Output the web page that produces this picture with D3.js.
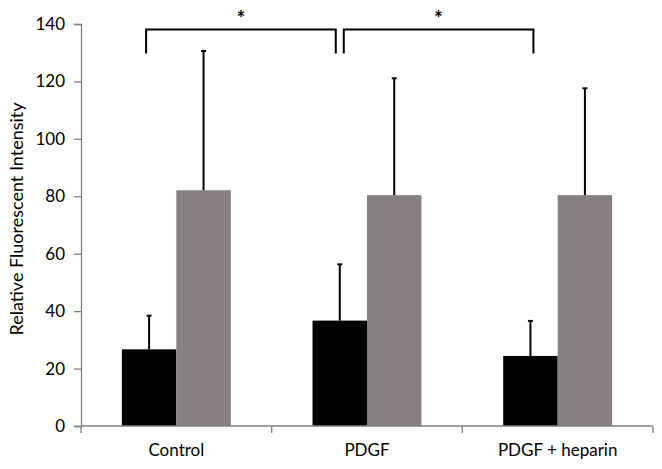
<!DOCTYPE html>
<html>
<head>
<meta charset="utf-8">
<script src="https://cdn.jsdelivr.net/npm/d3@7"></script>
<style>
  body { margin: 0; background: #fff; }
  text { font-family: Lato, "Open Sans", sans-serif; fill: #000; }
</style>
</head>
<body>
<div id="chart"></div>
<script>
/* DATA */
const categories = ["Control", "PDGF", "PDGF + heparin"];
const seriesKeys = ["black", "gray"];
const blackValues = [26.7, 36.7, 24.4];
const blackErrors = [11.7, 19.6, 12.2];
const grayValues = [82.1, 80.4, 80.4];
const grayErrors = [48.5, 40.7, 37.2];
const yTicks = [0, 20, 40, 60, 80, 100, 120, 140];
// significance brackets: [from category, to category]
const brackets = [["Control", "PDGF"], ["PDGF", "PDGF + heparin"]];

const W = 662, H = 469;
const margin = { top: 24, right: 9, bottom: 43, left: 81 };
const width = W - margin.left - margin.right;
const height = H - margin.top - margin.bottom;

const colors = { black: "#000000", gray: "#868180" };

const rows = categories.map((c, i) => ({
  cat: c,
  bars: [
    { key: "black", value: blackValues[i], err: blackErrors[i] },
    { key: "gray", value: grayValues[i], err: grayErrors[i] }
  ]
}));

const svg = d3.select("#chart").append("svg")
  .attr("width", W).attr("height", H);

const g = svg.append("g")
  .attr("transform", `translate(${margin.left},${margin.top})`);

const x = d3.scaleBand().domain(categories).range([0, width]).paddingInner(0).paddingOuter(0);
const x1 = d3.scaleBand().domain(seriesKeys).range([0, x.bandwidth()]).paddingInner(0).paddingOuter(0.75);
const y = d3.scaleLinear().domain([0, 140]).range([height, 0]);

// y axis
const yAxis = g.append("g")
  .call(d3.axisLeft(y).tickValues(yTicks).tickSize(7).tickPadding(9));
yAxis.select(".domain").attr("stroke", "#7f7f7f").attr("stroke-width", 1.3);
yAxis.selectAll(".tick line").attr("stroke", "#7f7f7f").attr("stroke-width", 1.3);
yAxis.selectAll(".tick text").attr("font-size", 17);

// bars
const groups = g.selectAll(".grp")
  .data(rows)
  .join("g")
  .attr("class", "grp")
  .attr("transform", d => `translate(${x(d.cat)},0)`);

groups.selectAll("rect")
  .data(d => d.bars)
  .join("rect")
  .attr("x", d => x1(d.key))
  .attr("y", d => y(d.value))
  .attr("width", x1.bandwidth())
  .attr("height", d => y(0) - y(d.value))
  .attr("fill", d => colors[d.key]);

// error bars (upper only)
groups.selectAll(".err")
  .data(d => d.bars)
  .join("line")
  .attr("class", "err")
  .attr("x1", d => x1(d.key) + x1.bandwidth() / 2)
  .attr("x2", d => x1(d.key) + x1.bandwidth() / 2)
  .attr("y1", d => y(d.value))
  .attr("y2", d => y(d.value + d.err))
  .attr("stroke", "#000").attr("stroke-width", 2);

groups.selectAll(".cap")
  .data(d => d.bars)
  .join("line")
  .attr("class", "cap")
  .attr("x1", d => x1(d.key) + x1.bandwidth() / 2 - 2.5)
  .attr("x2", d => x1(d.key) + x1.bandwidth() / 2 + 2.5)
  .attr("y1", d => y(d.value + d.err))
  .attr("y2", d => y(d.value + d.err))
  .attr("stroke", "#000").attr("stroke-width", 2);

// x axis
const xAxisG = g.append("g").attr("transform", `translate(0,${height})`);
xAxisG.append("line")
  .attr("x1", 0).attr("x2", width)
  .attr("stroke", "#7f7f7f").attr("stroke-width", 1.3);
const bounds = categories.map(c => x(c)).concat([width]);
xAxisG.selectAll(".xt")
  .data(bounds)
  .join("line")
  .attr("class", "xt")
  .attr("x1", d => d).attr("x2", d => d)
  .attr("y1", 0).attr("y2", 7)
  .attr("stroke", "#7f7f7f").attr("stroke-width", 1.3);
xAxisG.selectAll(".xl")
  .data(categories)
  .join("text")
  .attr("class", "xl")
  .attr("x", d => x(d) + x.bandwidth() / 2)
  .attr("y", 30)
  .attr("text-anchor", "middle")
  .attr("font-size", 17)
  .text(d => d);

// y title
svg.append("text")
  .attr("transform", `translate(23,${margin.top + height / 2 - 6}) rotate(-90)`)
  .attr("text-anchor", "middle")
  .attr("font-size", 18)
  .text("Relative Fluorescent Intensity");

// significance brackets
const blackCenter = c => x(c) + x1("black") + x1.bandwidth() / 2;
const bTop = 29.5 - margin.top, bBottom = 53.5 - margin.top;
brackets.forEach(([a, b], i) => {
  const xa = blackCenter(a) + (i === 0 ? -3 : 4);
  const xb = blackCenter(b) + (i === 0 ? -4 : 3);
  g.append("path")
    .attr("d", `M${xa},${bBottom}V${bTop}H${xb}V${bBottom}`)
    .attr("fill", "none").attr("stroke", "#000").attr("stroke-width", 2);
  g.append("text")
    .attr("x", (xa + xb) / 2)
    .attr("y", 26 - margin.top)
    .attr("text-anchor", "middle")
    .attr("font-family", "DejaVu Sans")
    .attr("font-size", 20)
    .attr("font-weight", "bold")
    .text("*");
});
</script>
</body>
</html>
